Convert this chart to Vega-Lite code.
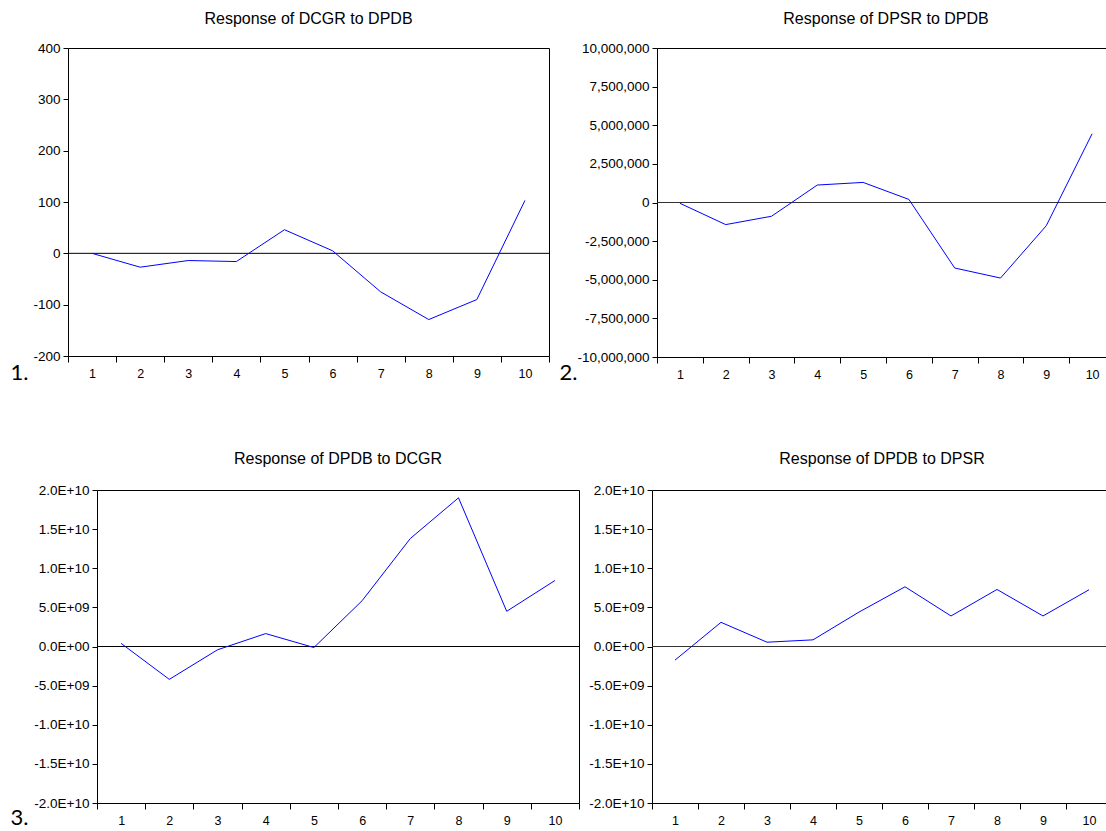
{
  "$schema": "https://vega.github.io/schema/vega-lite/v6.json",
  "padding": {"left": 0, "top": 10, "right": 0, "bottom": 0},
  "config": {
    "font": "Liberation Sans",
    "view": {"stroke": "#000", "strokeWidth": 1},
    "axis": {"grid": false, "domain": false, "labelFont": "Liberation Sans", "labelColor": "#000", "tickColor": "#000", "titleFont": "Lato", "titleFontSize": 22, "titleFontWeight": "normal", "titleColor": "#000"},
    "axisX": {"tickSize": 6, "labelPadding": 5, "labelAngle": 0, "labelFontSize": 12.5, "tickBand": "extent"},
    "axisY": {"tickSize": 5, "labelPadding": 3, "labelFontSize": 13.5, "title": null, "labelOverlap": false},
    "title": {"font": "Liberation Sans", "fontSize": 16, "fontWeight": "normal", "color": "#000", "frame": "group", "anchor": "middle", "offset": 14}
  },
  "align": "none",
  "spacing": 66,
  "vconcat": [
    {
      "align": "none",
      "spacing": 8,
      "hconcat": [
        {
          "width": 1,
          "height": 1,
          "view": {"stroke": null},
          "data": {"values": [{}]},
          "mark": {"type": "rect", "opacity": 0}
        },
        {
          "title": "Response of DCGR to DPDB",
          "width": 481,
          "height": 308,
          "data": {"values": [
            {"period": 1, "value": 0}, {"period": 2, "value": -27}, {"period": 3, "value": -14}, {"period": 4, "value": -16}, {"period": 5, "value": 46},
            {"period": 6, "value": 5}, {"period": 7, "value": -75}, {"period": 8, "value": -129}, {"period": 9, "value": -90}, {"period": 10, "value": 103}
          ]},
          "encoding": {
            "y": {"field": "value", "type": "quantitative", "scale": {"domain": [-200, 400], "nice": false, "zero": false},
                  "axis": {"values": [-200, -100, 0, 100, 200, 300, 400], "labelExpr": "(datum.value < 0 ? '-' : '') + format(abs(datum.value), 'd')"}}
          },
          "layer": [
            {"data": {"values": [{"value": 0}]}, "mark": {"type": "rule", "color": "#000", "strokeWidth": 1}, "encoding": {}},
            {
              "mark": {"type": "line", "color": "#0000ff", "strokeWidth": 1},
              "encoding": {
                "x": {"field": "period", "type": "ordinal", "bandPosition": 0.5, "scale": {"type": "band", "paddingInner": 0, "paddingOuter": 0},
                      "axis": {"title": "1.", "titleAlign": "left", "titleBaseline": "alphabetic", "titleX": -58, "titleY": 23}}
              }
            }
          ]
        },
        {
          "title": "Response of DPSR to DPDB",
          "width": 458,
          "height": 309,
          "data": {"values": [
            {"period": 1, "value": -50000}, {"period": 2, "value": -1430000}, {"period": 3, "value": -890000}, {"period": 4, "value": 1130000}, {"period": 5, "value": 1300000},
            {"period": 6, "value": 200000}, {"period": 7, "value": -4240000}, {"period": 8, "value": -4890000}, {"period": 9, "value": -1500000}, {"period": 10, "value": 4450000}
          ]},
          "encoding": {
            "y": {"field": "value", "type": "quantitative", "scale": {"domain": [-10000000, 10000000], "nice": false, "zero": false},
                  "axis": {"values": [-10000000, -7500000, -5000000, -2500000, 0, 2500000, 5000000, 7500000, 10000000], "labelExpr": "(datum.value < 0 ? '-' : '') + format(abs(datum.value), ',')"}}
          },
          "layer": [
            {"data": {"values": [{"value": 0}]}, "mark": {"type": "rule", "color": "#333", "strokeWidth": 1}, "encoding": {}},
            {
              "mark": {"type": "line", "color": "#0000ff", "strokeWidth": 1},
              "encoding": {
                "x": {"field": "period", "type": "ordinal", "bandPosition": 0.5, "scale": {"type": "band", "paddingInner": 0, "paddingOuter": 0},
                      "axis": {"title": "2.", "titleAlign": "left", "titleBaseline": "alphabetic", "titleX": -98, "titleY": 22}}
              }
            }
          ]
        }
      ]
    },
    {
      "align": "none",
      "spacing": 8,
      "hconcat": [
        {
          "width": 1,
          "height": 1,
          "view": {"stroke": null},
          "data": {"values": [{}]},
          "mark": {"type": "rect", "opacity": 0}
        },
        {
          "title": {"text": "Response of DPDB to DCGR", "offset": 16},
          "width": 482,
          "height": 313,
          "data": {"values": [
            {"period": 1, "value": 400000000}, {"period": 2, "value": -4200000000}, {"period": 3, "value": -420000000}, {"period": 4, "value": 1650000000}, {"period": 5, "value": -130000000},
            {"period": 6, "value": 5850000000}, {"period": 7, "value": 13800000000}, {"period": 8, "value": 19000000000}, {"period": 9, "value": 4500000000}, {"period": 10, "value": 8430000000}
          ]},
          "encoding": {
            "y": {"field": "value", "type": "quantitative", "scale": {"domain": [-20000000000, 20000000000], "nice": false, "zero": false},
                  "axis": {"values": [-20000000000, -15000000000, -10000000000, -5000000000, 0, 5000000000, 10000000000, 15000000000, 20000000000],
                           "labelExpr": "datum.value == 0 ? '0.0E+00' : (datum.value < 0 ? '-' : '') + format(abs(datum.value) / pow(10, floor(log(abs(datum.value)) / LN10 + 1e-9)), '.1f') + 'E+' + (floor(log(abs(datum.value)) / LN10 + 1e-9) < 10 ? '0' : '') + floor(log(abs(datum.value)) / LN10 + 1e-9)"}}
          },
          "layer": [
            {"data": {"values": [{"value": 0}]}, "mark": {"type": "rule", "color": "#000", "strokeWidth": 1}, "encoding": {}},
            {
              "mark": {"type": "line", "color": "#0000ff", "strokeWidth": 1},
              "encoding": {
                "x": {"field": "period", "type": "ordinal", "bandPosition": 0.5, "scale": {"type": "band", "paddingInner": 0, "paddingOuter": 0},
                      "axis": {"title": "3.", "titleAlign": "left", "titleBaseline": "alphabetic", "titleX": -87, "titleY": 21}}
              }
            }
          ]
        },
        {
          "title": {"text": "Response of DPDB to DPSR", "offset": 16},
          "width": 460,
          "height": 313,
          "data": {"values": [
            {"period": 1, "value": -1740000000}, {"period": 2, "value": 3090000000}, {"period": 3, "value": 550000000}, {"period": 4, "value": 850000000}, {"period": 5, "value": 4400000000},
            {"period": 6, "value": 7630000000}, {"period": 7, "value": 3900000000}, {"period": 8, "value": 7290000000}, {"period": 9, "value": 3900000000}, {"period": 10, "value": 7250000000}
          ]},
          "encoding": {
            "y": {"field": "value", "type": "quantitative", "scale": {"domain": [-20000000000, 20000000000], "nice": false, "zero": false},
                  "axis": {"values": [-20000000000, -15000000000, -10000000000, -5000000000, 0, 5000000000, 10000000000, 15000000000, 20000000000],
                           "labelExpr": "datum.value == 0 ? '0.0E+00' : (datum.value < 0 ? '-' : '') + format(abs(datum.value) / pow(10, floor(log(abs(datum.value)) / LN10 + 1e-9)), '.1f') + 'E+' + (floor(log(abs(datum.value)) / LN10 + 1e-9) < 10 ? '0' : '') + floor(log(abs(datum.value)) / LN10 + 1e-9)"}}
          },
          "layer": [
            {"data": {"values": [{"value": 0}]}, "mark": {"type": "rule", "color": "#333", "strokeWidth": 1}, "encoding": {}},
            {
              "mark": {"type": "line", "color": "#0000ff", "strokeWidth": 1},
              "encoding": {
                "x": {"field": "period", "type": "ordinal", "bandPosition": 0.5, "scale": {"type": "band", "paddingInner": 0, "paddingOuter": 0},
                      "axis": {"title": null}}
              }
            }
          ]
        }
      ]
    }
  ]
}
